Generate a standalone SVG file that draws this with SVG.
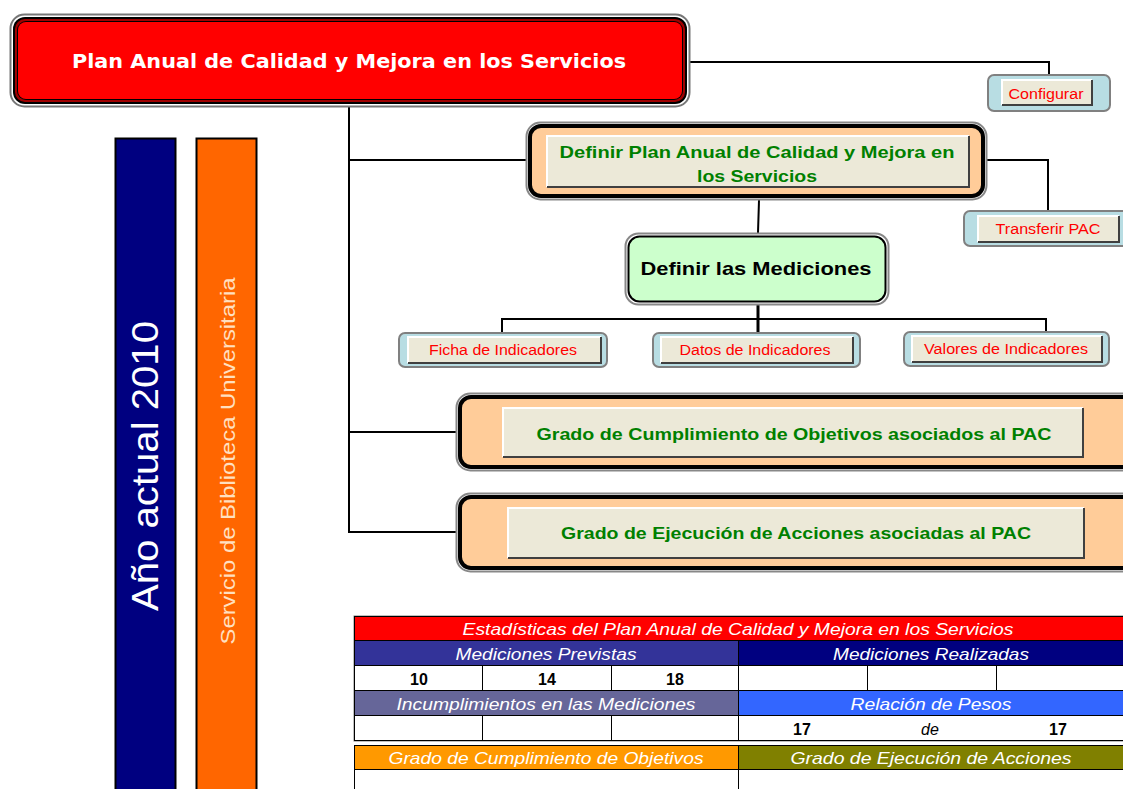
<svg xmlns="http://www.w3.org/2000/svg" width="1123" height="789" viewBox="0 0 1123 789">
<style>
.conn{stroke:#000;stroke-width:2;fill:none}
.btn{fill:#ECE9D8}
.hl{stroke:#fff;stroke-width:2;fill:none}
.sh{stroke:#404040;stroke-width:2;fill:none}
.red{font-family:"Liberation Sans",Arial,sans-serif;font-size:14px;fill:#FF0000;text-anchor:middle}
.grn{font-family:"Liberation Sans",Arial,sans-serif;font-size:17px;font-weight:bold;fill:#008000;text-anchor:middle}
.th{font-family:"Liberation Sans",Arial,sans-serif;font-size:17px;font-style:italic;fill:#fff;text-anchor:middle}
.num{font-family:"Liberation Sans",Arial,sans-serif;font-size:16px;font-weight:bold;fill:#000;text-anchor:middle}
.cell{fill:#fff;stroke:#000;stroke-width:1}
.lb-out{fill:#B8DDE3;stroke:#808080;stroke-width:2}
</style>
<rect width="1123" height="789" fill="#fff"/>

<g id="connectors">
<polyline class="conn" points="690,62 1049,62 1049,75"/>
<line class="conn" x1="349" y1="107" x2="349" y2="533"/>
<line class="conn" x1="348" y1="160" x2="526" y2="160"/>
<line class="conn" x1="348" y1="432" x2="456" y2="432"/>
<line class="conn" x1="348" y1="532" x2="456" y2="532"/>
<polyline class="conn" points="987,160 1048,160 1048,211"/>
<line class="conn" x1="759" y1="200" x2="758" y2="233"/>
<line x1="758" y1="305" x2="758" y2="333" stroke="#000" stroke-width="3"/>
<polyline class="conn" points="502,333 502,319 1046,319 1046,332"/>
</g>

<g id="main">
<rect x="10.5" y="14.5" width="679" height="92" rx="14" fill="#fff" stroke="#777" stroke-width="2"/>
<rect x="13" y="17" width="674" height="87" rx="12" fill="#000"/>
<rect x="15" y="19" width="670" height="83" rx="10" fill="#A00000"/>
<rect x="17" y="21" width="666" height="79" rx="9" fill="#000"/>
<rect x="18" y="22" width="664" height="77" rx="8" fill="#FF0000"/>
<text x="349" y="68" font-family="'DejaVu Sans',sans-serif" font-size="20" font-weight="bold" fill="#fff" text-anchor="middle" textLength="554" lengthAdjust="spacingAndGlyphs">Plan Anual de Calidad y Mejora en los Servicios</text>
</g>

<g id="configurar">
<rect class="lb-out" x="988" y="75" width="122" height="36" rx="6"/>
<rect class="btn" x="1002" y="80" width="90" height="25"/>
<polyline class="hl" points="1002,105 1002,80 1092,80"/>
<polyline class="sh" points="1002,105 1092,105 1092,80"/>
<text class="red" x="1046" y="99" textLength="75" lengthAdjust="spacingAndGlyphs">Configurar</text>
</g>

<g id="definir-plan">
<rect x="526.5" y="122.5" width="460" height="77" rx="14" fill="#fff" stroke="#888" stroke-width="2"/>
<rect x="530" y="126" width="453" height="70" rx="11" fill="#FFCC99" stroke="#000" stroke-width="4"/>
<rect class="btn" x="547" y="136" width="422" height="51"/>
<polyline class="hl" points="547,187 547,136 969,136"/>
<polyline class="sh" points="547,187 969,187 969,136"/>
<text class="grn" x="757" y="158" textLength="395" lengthAdjust="spacingAndGlyphs">Definir Plan Anual de Calidad y Mejora en</text>
<text class="grn" x="757" y="182" textLength="120" lengthAdjust="spacingAndGlyphs">los Servicios</text>
</g>

<g id="transferir">
<rect class="lb-out" x="964" y="211" width="170" height="35" rx="6"/>
<rect class="btn" x="978" y="216" width="141" height="26"/>
<polyline class="hl" points="978,242 978,216 1119,216"/>
<polyline class="sh" points="978,242 1119,242 1119,216"/>
<text class="red" x="1048" y="234" textLength="105" lengthAdjust="spacingAndGlyphs">Transferir PAC</text>
</g>

<g id="mediciones">
<rect x="625.5" y="233.5" width="263" height="71" rx="13" fill="#fff" stroke="#888" stroke-width="2"/>
<rect x="628.5" y="236.5" width="257" height="65" rx="11" fill="#CCFFCC" stroke="#000" stroke-width="2"/>
<text x="756" y="275" font-family="'Liberation Sans',Arial,sans-serif" font-size="19" font-weight="bold" fill="#000" text-anchor="middle" textLength="231" lengthAdjust="spacingAndGlyphs">Definir las Mediciones</text>
</g>

<g id="ficha">
<rect class="lb-out" x="399" y="333" width="208" height="34" rx="6"/>
<rect class="btn" x="408" y="337" width="193" height="26"/>
<polyline class="hl" points="408,363 408,337 601,337"/>
<polyline class="sh" points="408,363 601,363 601,337"/>
<text class="red" x="503" y="355" textLength="148" lengthAdjust="spacingAndGlyphs">Ficha de Indicadores</text>
</g>

<g id="datos">
<rect class="lb-out" x="653" y="333" width="207" height="34" rx="6"/>
<rect class="btn" x="661" y="337" width="192" height="26"/>
<polyline class="hl" points="661,363 661,337 853,337"/>
<polyline class="sh" points="661,363 853,363 853,337"/>
<text class="red" x="755" y="355" textLength="151" lengthAdjust="spacingAndGlyphs">Datos de Indicadores</text>
</g>

<g id="valores">
<rect class="lb-out" x="904" y="332" width="205" height="34" rx="6"/>
<rect class="btn" x="912" y="336" width="190" height="26"/>
<polyline class="hl" points="912,362 912,336 1102,336"/>
<polyline class="sh" points="912,362 1102,362 1102,336"/>
<text class="red" x="1006" y="354" textLength="164" lengthAdjust="spacingAndGlyphs">Valores de Indicadores</text>
</g>

<g id="grado-cumplimiento">
<rect x="456.5" y="393.5" width="690" height="77" rx="14" fill="#fff" stroke="#888" stroke-width="2"/>
<rect x="460" y="397" width="683" height="70" rx="11" fill="#FFCC99" stroke="#000" stroke-width="4"/>
<rect class="btn" x="503" y="408" width="580" height="49"/>
<polyline class="hl" points="503,457 503,408 1083,408"/>
<polyline class="sh" points="503,457 1083,457 1083,408"/>
<text class="grn" x="794" y="440" textLength="515" lengthAdjust="spacingAndGlyphs">Grado de Cumplimiento de Objetivos asociados al PAC</text>
</g>

<g id="grado-ejecucion">
<rect x="456.5" y="493.5" width="690" height="78" rx="14" fill="#fff" stroke="#888" stroke-width="2"/>
<rect x="460" y="497" width="683" height="71" rx="11" fill="#FFCC99" stroke="#000" stroke-width="4"/>
<rect class="btn" x="508" y="508" width="576" height="50"/>
<polyline class="hl" points="508,558 508,508 1084,508"/>
<polyline class="sh" points="508,558 1084,558 1084,508"/>
<text class="grn" x="796" y="539" textLength="470" lengthAdjust="spacingAndGlyphs">Grado de Ejecución de Acciones asociadas al PAC</text>
</g>

<g id="anio">
<rect x="115.5" y="138.5" width="60" height="660" fill="#000080" stroke="#000" stroke-width="2"/>
<text transform="translate(158,466) rotate(-90)" x="0" y="0" font-family="'Liberation Sans',Arial,sans-serif" font-size="36" fill="#fff" text-anchor="middle" textLength="290" lengthAdjust="spacingAndGlyphs">Año actual 2010</text>
</g>

<g id="servicio">
<rect x="196.5" y="138.5" width="60" height="660" fill="#FF6600" stroke="#000" stroke-width="2"/>
<text transform="translate(235,461) rotate(-90)" x="0" y="0" font-family="'Liberation Sans',Arial,sans-serif" font-size="20" fill="#FFE0C0" text-anchor="middle" textLength="367" lengthAdjust="spacingAndGlyphs">Servicio de Biblioteca Universitaria</text>
</g>

<g id="tabla">
<rect x="354" y="616" width="769" height="125" fill="#fff" stroke="#808080" stroke-width="1"/>
<rect x="354.5" y="616.5" width="769" height="24" fill="#FF0000" stroke="#000" stroke-width="1"/>
<text class="th" x="738" y="635" textLength="551" lengthAdjust="spacingAndGlyphs">Estadísticas del Plan Anual de Calidad y Mejora en los Servicios</text>
<rect x="354.5" y="640.5" width="384" height="25" fill="#333399" stroke="#000" stroke-width="1"/>
<rect x="738.5" y="640.5" width="385" height="25" fill="#000080" stroke="#000" stroke-width="1"/>
<text class="th" x="546" y="660" textLength="181" lengthAdjust="spacingAndGlyphs">Mediciones Previstas</text>
<text class="th" x="931" y="660" textLength="196" lengthAdjust="spacingAndGlyphs">Mediciones Realizadas</text>
<rect class="cell" x="354.5" y="665.5" width="128" height="25"/>
<rect class="cell" x="482.5" y="665.5" width="129" height="25"/>
<rect class="cell" x="611.5" y="665.5" width="127" height="25"/>
<rect class="cell" x="738.5" y="665.5" width="129" height="25"/>
<rect class="cell" x="867.5" y="665.5" width="129" height="25"/>
<rect class="cell" x="996.5" y="665.5" width="127" height="25"/>
<text class="num" x="419" y="685">10</text>
<text class="num" x="547" y="685">14</text>
<text class="num" x="675" y="685">18</text>
<rect x="354.5" y="690.5" width="384" height="25" fill="#666699" stroke="#000" stroke-width="1"/>
<rect x="738.5" y="690.5" width="385" height="25" fill="#3366FF" stroke="#000" stroke-width="1"/>
<text class="th" x="546" y="710" textLength="299" lengthAdjust="spacingAndGlyphs">Incumplimientos en las Mediciones</text>
<text class="th" x="931" y="710" textLength="161" lengthAdjust="spacingAndGlyphs">Relación de Pesos</text>
<rect class="cell" x="354.5" y="715.5" width="128" height="25"/>
<rect class="cell" x="482.5" y="715.5" width="129" height="25"/>
<rect class="cell" x="611.5" y="715.5" width="127" height="25"/>
<rect class="cell" x="738.5" y="715.5" width="385" height="25"/>
<text class="num" x="802" y="735">17</text>
<text x="930" y="735" font-family="'Liberation Sans',Arial,sans-serif" font-size="16" font-style="italic" fill="#000" text-anchor="middle">de</text>
<text class="num" x="1058" y="735">17</text>
<rect x="354.5" y="745.5" width="384" height="24" fill="#FF9900" stroke="#000" stroke-width="1"/>
<rect x="738.5" y="745.5" width="385" height="24" fill="#808000" stroke="#000" stroke-width="1"/>
<text class="th" x="546" y="764" textLength="315" lengthAdjust="spacingAndGlyphs">Grado de Cumplimiento de Objetivos</text>
<text class="th" x="931" y="764" textLength="281" lengthAdjust="spacingAndGlyphs">Grado de Ejecución de Acciones</text>
<rect class="cell" x="354.5" y="769.5" width="384" height="25"/>
<rect class="cell" x="738.5" y="769.5" width="385" height="25"/>
</g>
</svg>
